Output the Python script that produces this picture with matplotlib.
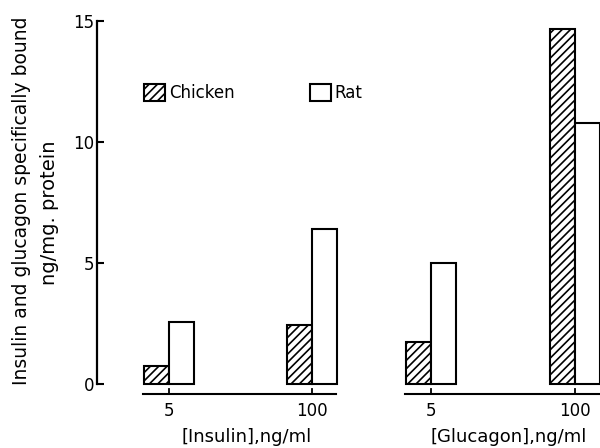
import matplotlib.pyplot as plt
from matplotlib.patches import Patch

plt.rcParams['font.family'] = ['DejaVu Sans']
plt.rcParams['hatch.linewidth'] = 1.2

# values (ng/mg protein)
groups = ['5', '100', '5', '100']
chicken = [0.75, 2.45, 1.75, 14.65]
rat = [2.55, 6.4, 5.0, 10.8]
axis_labels = ['[Insulin],ng/ml', '[Glucagon],ng/ml']

# group centres (x units ~ pixels)
centres = [0, 143, 262, 406]
w = 25

fig = plt.figure(figsize=(6, 4.48), dpi=100)
ax = fig.add_axes([97 / 600, 43 / 448, 503 / 600, 395 / 448])

ax.bar([c - w / 2 for c in centres], chicken, width=w, color='white',
       edgecolor='black', linewidth=1.5, hatch='////', zorder=2)
ax.bar([c + w / 2 for c in centres], rat, width=w, color='white',
       edgecolor='black', linewidth=1.5, zorder=2)

ax.set_xlim(-72, 431)
ax.set_ylim(-0.87, 15.45)

# y axis
for s in ['top', 'right', 'bottom']:
    ax.spines[s].set_visible(False)
ax.spines['left'].set_bounds(0, 15)
ax.spines['left'].set_linewidth(1.6)
ax.set_yticks([0, 5, 10, 15])
ax.tick_params(axis='y', direction='in', length=5, width=1.5, labelsize=12, pad=2)
ax.set_xticks([])

# two separate x-axis segments below the bars
yline = -0.41
for seg in [(0, 1), (2, 3)]:
    x0 = centres[seg[0]] - w - 1
    x1 = centres[seg[1]] + w - 1
    ax.plot([x0, x1], [yline, yline], color='black', lw=1.5, clip_on=False)
for i, c in enumerate(centres):
    ax.plot([c, c], [yline, yline + 0.22], color='black', lw=1.3, clip_on=False)
    ax.text(c, yline - 0.35, groups[i], ha='center', va='top', fontsize=12)
ax.text((centres[0] + centres[1]) / 2 + 6, -2.2, axis_labels[0], ha='center',
        va='center', fontsize=13, clip_on=False)
ax.text((centres[2] + centres[3]) / 2 + 6, -2.2, axis_labels[1], ha='center',
        va='center', fontsize=13, clip_on=False)

fig.text(0.036, 0.551, 'Insulin and glucagon specifically bound', rotation=90,
         ha='center', va='center', fontsize=13.5)
fig.text(0.082, 0.525, 'ng/mg. protein', rotation=90,
         ha='center', va='center', fontsize=14)

handles = [Patch(facecolor='white', edgecolor='black', linewidth=1.5, hatch='////'),
           Patch(facecolor='white', edgecolor='black', linewidth=1.5)]
ax.legend(handles, ['Chicken', 'Rat'], ncol=2, frameon=False, fontsize=12,
          loc='center left', bbox_to_anchor=(0.064, 0.79), handlelength=1.25,
          handleheight=1.2, handletextpad=0.25, columnspacing=4.5)

fig.savefig('out.png', dpi=100)
